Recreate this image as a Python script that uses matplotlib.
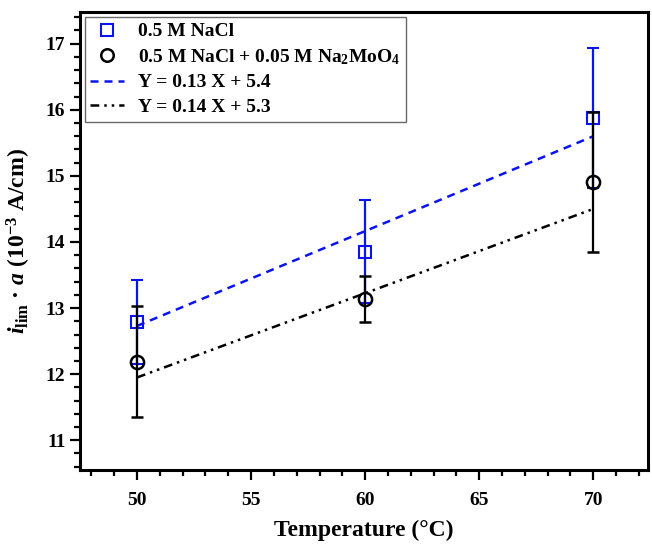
import numpy as np
import matplotlib
matplotlib.use("Agg")
import matplotlib.pyplot as plt
from matplotlib.lines import Line2D

# values
temps = [50, 60, 70]
nacl = [12.79, 13.85, 15.87]
nacl_err = [0.64, 0.78, 1.06]
moly = [12.19, 13.14, 14.91]
moly_err = [0.84, 0.35, 1.06]

fit_x = [50, 70]
nacl_fit = [12.73, 15.60]
moly_fit = [11.95, 14.50]

labels = ["0.5 M NaCl",
          "0.5 M NaCl + 0.05 M Na$_2$MoO$_4$",
          "Y = 0.13 X + 5.4",
          "Y = 0.14 X + 5.3"]

plt.rcParams['font.family'] = ['Liberation Serif', 'DejaVu Serif']
plt.rcParams['font.weight'] = 'bold'
plt.rcParams['mathtext.fontset'] = 'custom'
plt.rcParams['mathtext.rm'] = 'Liberation Serif:bold'
plt.rcParams['mathtext.it'] = 'Liberation Serif:bold:italic'
plt.rcParams['mathtext.bf'] = 'Liberation Serif:bold'

fig = plt.figure(figsize=(6.52, 5.45), dpi=100)
ax = fig.add_axes([0.1227, 0.1376, 0.8712, 0.8404])

blue = '#0a14f0'
nacl_dash = (3.2, 2.4)
moly_dash = (3.5, 2.0, 1.0, 2.0, 1.0, 2.0)

ax.errorbar(temps, nacl, yerr=nacl_err, fmt='s', color=blue, mfc='none',
            mec=blue, ms=8, mew=1.5, elinewidth=1.6, capsize=4.5, capthick=1.6,
            zorder=3)
ax.errorbar(temps, moly, yerr=moly_err, fmt='o', color='black', mfc='none',
            mec='black', ms=9.5, mew=1.8, elinewidth=1.6, capsize=4.5,
            capthick=1.6, zorder=4)

ax.plot(fit_x, nacl_fit, color=blue, lw=1.8, dashes=nacl_dash, zorder=2)
ax.plot(fit_x, moly_fit, color='black', lw=1.8, dashes=moly_dash, zorder=2)

ax.set_xlim(47.5, 72.4)
ax.set_ylim(10.55, 17.48)
ax.set_xticks([50, 55, 60, 65, 70])
ax.set_xticks(np.arange(48, 73, 1), minor=True)
ax.set_yticks([11, 12, 13, 14, 15, 16, 17])
ax.set_yticks(np.arange(10.6, 17.5, 0.2), minor=True)

for s in ax.spines.values():
    s.set_linewidth(2.2)
ax.tick_params(which='major', direction='out', length=7.5, width=1.6,
               labelsize=14, pad=3)
ax.tick_params(which='minor', direction='out', length=4.5, width=1.6)
ax.tick_params(axis='x', pad=8)

ax.set_xlabel("Temperature (°C)", fontsize=17, fontweight='bold', labelpad=8)
ax.set_ylabel(r"$\mathit{i}_{\mathrm{lim}}$ · $\mathit{a}$ (10$^{-3}$ A/cm)",
              fontsize=17, fontweight='bold', labelpad=9)

handles = [
    Line2D([], [], ls='none', marker='s', mfc='none', mec=blue, ms=8, mew=1.5),
    Line2D([], [], ls='none', marker='o', mfc='none', mec='black', ms=9, mew=1.8),
    Line2D([], [], color=blue, lw=1.8, dashes=nacl_dash),
    Line2D([], [], color='black', lw=1.8, dashes=moly_dash),
]
leg = ax.legend(handles, labels, loc='upper left', bbox_to_anchor=(0.008, 0.989),
                fontsize=14, frameon=True, fancybox=False, edgecolor='#444444',
                handlelength=1.75, handletextpad=0.7, borderpad=0.3,
                labelspacing=0.35, borderaxespad=0)
leg.get_frame().set_linewidth(1.0)
for t in leg.get_texts():
    t.set_fontweight('bold')

fig.savefig("out.png", dpi=100)
